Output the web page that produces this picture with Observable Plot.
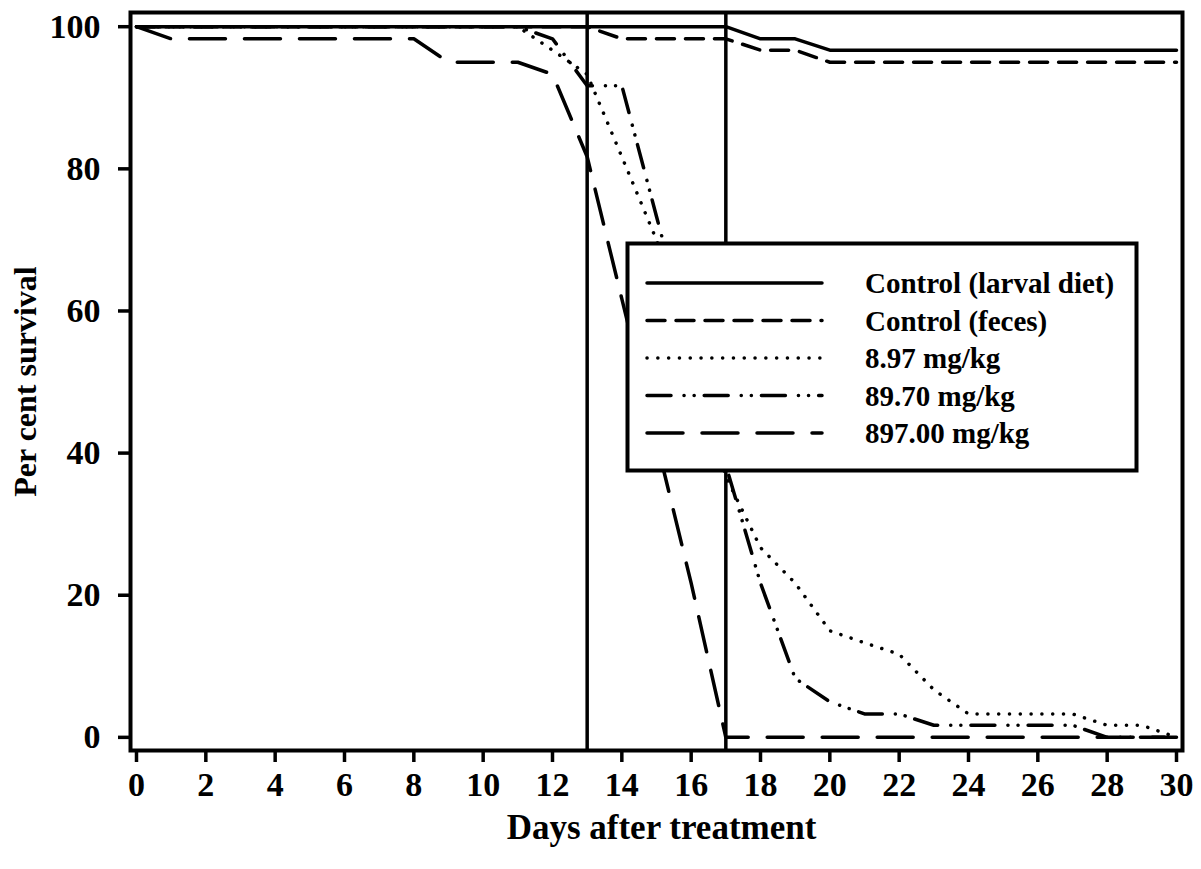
<!DOCTYPE html>
<html><head><meta charset="utf-8">
<script src="https://cdn.jsdelivr.net/npm/d3@7"></script>
<script src="https://cdn.jsdelivr.net/npm/@observablehq/plot@0.6"></script>
<style>
body{margin:0;background:#fff;}
#wrap{position:relative;width:1201px;height:869px;background:#fff;}
#legend{position:absolute;left:624px;top:240px;}
</style></head><body><div id="wrap"></div>
<script>
const days = [0,1,2,3,4,5,6,7,8,9,10,11,12,13,14,15,16,17,18,19,20,21,22,23,24,25,26,27,28,29,30];
const controlLarval = [100,100,100,100,100,100,100,100,100,100,100,100,100,100,100,100,100,100,98.3,98.3,96.7,96.7,96.7,96.7,96.7,96.7,96.7,96.7,96.7,96.7,96.7];
const controlFeces  = [100,100,100,100,100,100,100,100,100,100,100,100,100,100,98.3,98.3,98.3,98.3,96.7,96.7,95,95,95,95,95,95,95,95,95,95,95];
const dose897       = [100,100,100,100,100,100,100,100,100,100,100,100,96.7,93.3,81.7,70,53.3,36.7,26.7,21.7,15,13.3,11.7,6.7,3.3,3.3,3.3,3.3,1.7,1.7,0];
const dose8970      = [100,100,100,100,100,100,100,100,100,100,100,100,98.3,91.7,91.7,73.3,55,38.3,21.7,8.3,5,3.3,3.3,1.7,1.7,1.7,1.7,1.7,0,0,0];
const dose89700     = [100,98.3,98.3,98.3,98.3,98.3,98.3,98.3,98.3,95,95,95,93.3,81.7,61.7,41.7,21.7,0,0,0,0,0,0,0,0,0,0,0,0,0,0];
const seriesNames = ["Control (larval diet)","Control (feces)","8.97 mg/kg","89.70 mg/kg","897.00 mg/kg"];
const seriesValues = [controlLarval, controlFeces, dose897, dose8970, dose89700];
const dashes = ["none","18,11","0.1,10.7","24,13,0.1,10,0.1,10","36,19"];
const xTicks = [0,2,4,6,8,10,12,14,16,18,20,22,24,26,28,30];
const yTicks = [0,20,40,60,80,100];
const phaseDays = [13,17];

const rows = [];
seriesValues.forEach((vals, i) => vals.forEach((v, j) => rows.push({day: days[j], value: v, series: seriesNames[i]})));

const font = "'Liberation Serif','Times New Roman',serif";

const chart = Plot.plot({
  width: 1201, height: 869,
  marginLeft: 130, marginRight: 19, marginTop: 12, marginBottom: 119,
  style: {fontFamily: font, fontWeight: "bold", background: "#fff", color: "black"},
  x: {domain: [-0.173, 30.173]},
  y: {domain: [-1.85, 102]},
  marks: [
    Plot.ruleX(phaseDays, {stroke: "black", strokeWidth: 3.5}),
    ...seriesNames.map((name, i) => Plot.line(rows.filter(d => d.series === name), {
      x: "day", y: "value", stroke: "black", strokeWidth: 3.5,
      strokeDasharray: dashes[i], strokeLinecap: "round", strokeLinejoin: "round"
    })),
    Plot.frame({stroke: "black", strokeWidth: 4}),
    Plot.axisX({ticks: xTicks, tickSize: 12, tickPadding: 9, strokeWidth: 3.5, fontSize: 34, fontWeight: "bold", label: null}),
    Plot.axisY({ticks: yTicks, tickSize: 12, tickPadding: 18, strokeWidth: 3.5, fontSize: 34, fontWeight: "bold", label: null}),
    Plot.text(["Days after treatment"], {frameAnchor: "bottom", dy: 77, dx: 5, fontSize: 35, fontWeight: "bold", textAnchor: "middle", lineAnchor: "middle", fill: "black"}),
    Plot.text(["Per cent survival"], {frameAnchor: "left", dx: -105, rotate: -90, fontSize: 32, fontWeight: "bold", textAnchor: "middle", lineAnchor: "middle", fill: "black"})
  ]
});
document.getElementById("wrap").appendChild(chart);

// legend (inside the plot area, as in the original)
const lg = d3.select("#wrap").append("svg").attr("id", "legend").attr("width", 516).attr("height", 234);
lg.append("rect").attr("x", 3.5).attr("y", 3.5).attr("width", 509).attr("height", 227)
  .attr("fill", "white").attr("stroke", "black").attr("stroke-width", 4);
seriesNames.forEach((name, i) => {
  const y = 43 + i * 37.5;
  lg.append("line").attr("x1", 23).attr("x2", 198).attr("y1", y).attr("y2", y)
    .attr("stroke", "black").attr("stroke-width", 3.5).attr("stroke-linecap", "round")
    .attr("stroke-dasharray", dashes[i]);
  lg.append("text").attr("x", 241).attr("y", y).attr("dy", "0.35em")
    .attr("font-family", font).attr("font-weight", "bold").attr("font-size", 29)
    .attr("fill", "black").text(name);
});
</script>
</body></html>
